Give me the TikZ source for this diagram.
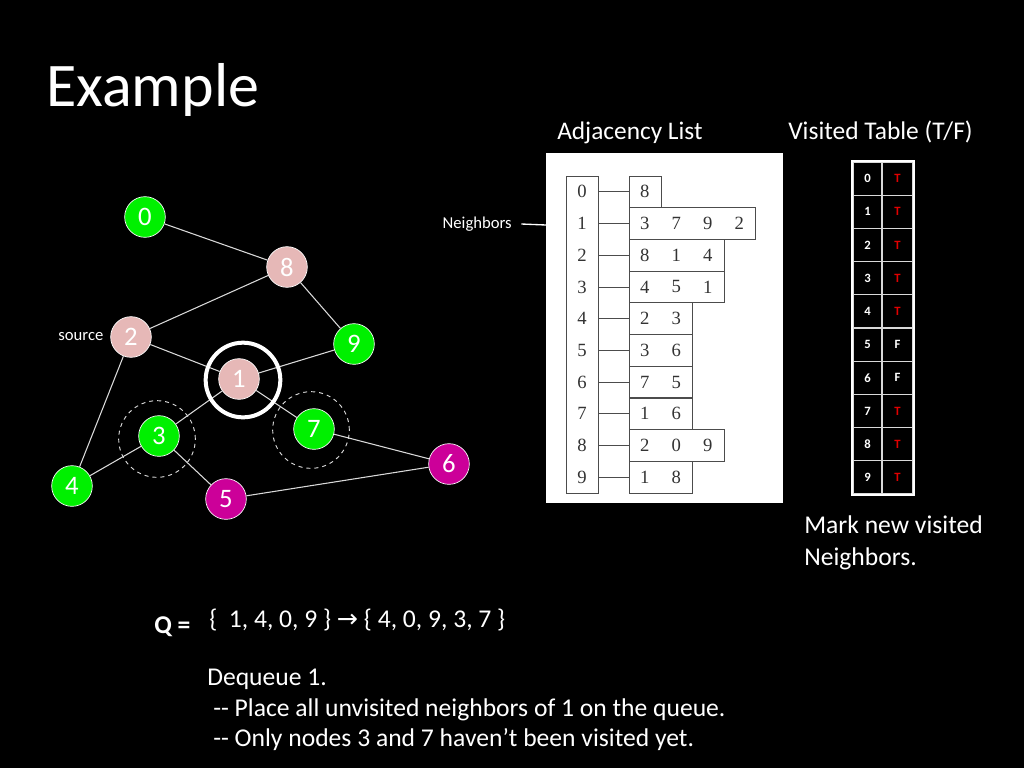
\documentclass[tikz,border=0pt]{standalone}
\usepackage{fontspec}
\setmainfont{Carlito}
\newfontfamily\listfont{Liberation Serif}
\newfontfamily\arrowfont{DejaVu Sans}
\usetikzlibrary{positioning}
\definecolor{visitgreen}{RGB}{0,240,0}
\definecolor{donepink}{RGB}{230,184,183}
\definecolor{newmagenta}{RGB}{204,0,153}
\definecolor{markred}{RGB}{225,0,0}

\begin{document}
\begin{tikzpicture}[x=0.75pt,y=-0.75pt,
  vertex/.style={circle,draw=white,line width=0.5pt,minimum size=30.5pt,inner sep=0pt,text=white,font=\fontsize{20}{20}\selectfont},
  edge/.style={white!85!black,line width=0.8pt},
  txt/.style={text=white,inner sep=0pt,anchor=base west},
  bodytxt/.style={txt,font=\fontsize{19.2}{22}\selectfont},
  listbox/.style={draw=black!70,line width=0.6pt,minimum height=23.8pt,inner sep=0pt,anchor=west},
  listnum/.style={text=black!80,font=\listfont\fontsize{14}{14}\selectfont,inner sep=0pt},
  vcell/.style={draw=white!85!black,line width=1pt,minimum height=24.9pt,inner sep=0pt,font=\bfseries\fontsize{9.5}{9.5}\selectfont}]
% Background and title
\fill[black] (0,0) rectangle (1024,768);
\node[txt,font=\fontsize{46.5}{50}\selectfont] (title) at (46,106) {Example};
% Draw the graph
\node[vertex,fill=visitgreen] (v0) at (145,217) {0};
\node[vertex,fill=donepink] (v8) at (287,267) {8};
\node[vertex,fill=donepink] (v2) at (131,337) {2};
\node[vertex,fill=visitgreen] (v9) at (354,344) {9};
\node[vertex,fill=donepink] (v1) at (239,379) {1};
\node[vertex,fill=visitgreen] (v3) at (159,436) {3};
\node[vertex,fill=visitgreen] (v7) at (314,429) {7};
\node[vertex,fill=visitgreen] (v4) at (72,486) {4};
\node[vertex,fill=newmagenta] (v5) at (226,499) {5};
\node[vertex,fill=newmagenta] (v6) at (449,464) {6};
\foreach \a/\b in {0/8,8/2,8/9,2/1,2/4,1/9,1/3,1/7,3/4,3/5,7/6,5/6}
  \draw[edge] (v\a) -- (v\b);
\node[txt,anchor=east,font=\fontsize{12.5}{12.5}\selectfont,left=5pt of v2] (src) {source};
% Rings round the current node and the new ones
\node[circle,draw=white,line width=3pt,minimum size=56pt] (ring1) at (243,380) {};
\node[circle,draw=white!85!black,dashed,line width=0.7pt,minimum size=57.5pt] (ring3) at (157,439) {};
\node[circle,draw=white!85!black,dashed,line width=0.7pt,minimum size=57.5pt] (ring7) at (311,430) {};
% Draw the adjacency list
\node[txt,font=\fontsize{19}{20}\selectfont] (adjtitle) at (557,139) {Adjacency List};
\node[fill=white,minimum width=177.75pt,minimum height=262.5pt,inner sep=0pt,anchor=north west] (adjbox) at (546,153) {};
\node[draw=black!70,line width=0.6pt,minimum width=24pt,minimum height=237.75pt,inner sep=0pt,anchor=north west] (idxcol) at (566,176) {};
\foreach \i/\lst/\n in {0/{8}/1,1/{3,7,9,2}/4,2/{8,1,4}/3,3/{4,5,1}/3,4/{2,3}/2,5/{3,6}/2,6/{7,5}/2,7/{1,6}/2,8/{2,0,9}/3,9/{1,8}/2}{
  \node[listnum] (idx\i) at (582,{191.85+31.7*\i}) {\i};
  \node[listbox,minimum width=\n*23.625pt] (lst\i) at (629,{191.85+31.7*\i}) {};
  \draw[black!70,line width=0.6pt] (idxcol.east |- lst\i.west) -- (lst\i.west);
  \foreach \v [count=\k] in \lst
    \node[listnum] at ({629+31.5*(\k-0.5)},{191.85+31.7*\i}) {\v};
}
\coordinate (nbrend) at (546,225);
\node[txt,anchor=east,font=\fontsize{12.5}{12.5}\selectfont] (nbr) at (512,224) {Neighbors};
\draw[white,line width=1pt] ([xshift=7pt]nbr.east) -- (nbrend);
% Draw the visited table
\node[txt,font=\fontsize{19.1}{20}\selectfont] (vtitle) at (788,139) {Visited Table (T/F)};
\foreach \i/\v/\c in {0/T/markred,1/T/markred,2/T/markred,3/T/markred,4/T/markred,5/F/white,6/F/white,7/T/markred,8/T/markred,9/T/markred}{
  \node[vcell,minimum width=21.75pt,text=white] (vk\i) at (867.5,{178.6+33.2*\i}) {\i};
  \node[vcell,minimum width=23.25pt,text=\c] (vv\i) at (897.5,{178.6+33.2*\i}) {\v};
}
\draw[white,line width=1.5pt] (vk0.north west) rectangle (vv9.south east);
\node[bodytxt] (mark1) at (804,533) {Mark new visited};
\node[bodytxt] (mark2) at (804,565) {Neighbors.};
% The queue and the steps
\node[bodytxt,font=\bfseries\fontsize{19.2}{22}\selectfont] (qlabel) at (154,633) {Q =};
\node[bodytxt] (qset) at (209,627) {\{~~1, 4, 0, 9 \}~{\arrowfont\fontsize{19}{19}\selectfont →}~\{ 4, 0, 9, 3, 7 \}};
\node[bodytxt] (step1) at (207,685) {Dequeue 1.};
\node[bodytxt] (step2) at (213,716) {-{}- Place all unvisited neighbors of 1 on the queue.};
\node[bodytxt] (step3) at (213,746) {-{}- Only nodes 3 and 7 haven’t been visited yet.};
\end{tikzpicture}
\end{document}
